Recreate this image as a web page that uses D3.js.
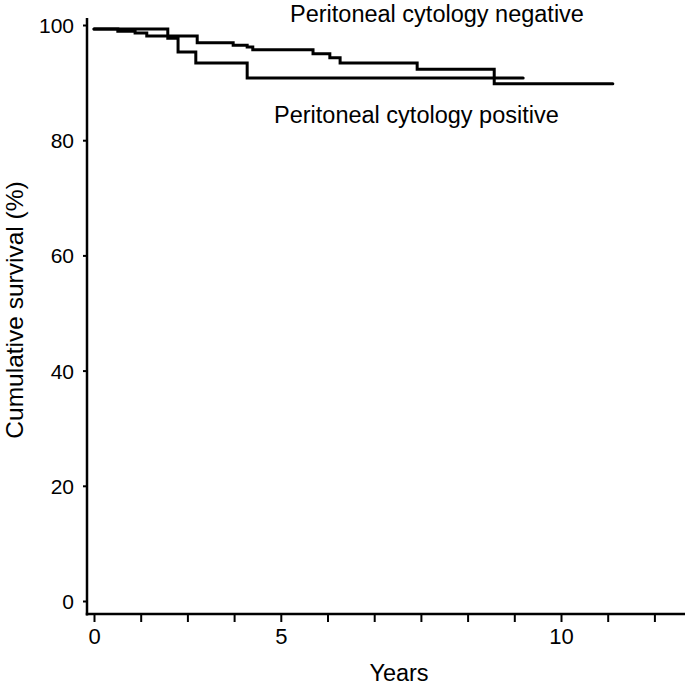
<!DOCTYPE html>
<html>
<head>
<meta charset="utf-8">
<script src="https://cdn.jsdelivr.net/npm/d3@7"></script>
<style>
body { margin: 0; background: #fff; }
text { font-family: "Liberation Sans", Arial, Helvetica, sans-serif; fill: #000; }
</style>
</head>
<body>
<svg id="chart"></svg>
<script>
var width = 685
var height = 686

//Kaplan-Meier steps: time in years, cumulative survival in %
var negTimes = [0, 0.51, 0.88, 1.13, 2.21, 2.98, 3.28, 3.40, 4.69, 5.05, 5.27, 6.92, 8.57, 11.11]
var negSurv  = [99.3, 98.9, 98.6, 98.1, 96.9, 96.5, 96.2, 95.7, 95.0, 94.3, 93.4, 92.3, 89.8, 89.8]
var posTimes = [0, 1.58, 1.80, 2.18, 3.28, 9.19]
var posSurv  = [99.3, 97.7, 95.3, 93.4, 90.8, 90.8]

//axis ticks (the "5" label sits under the fourth year tick in the original)
var xTicks = [0, 1, 2, 3, 4, 5, 6, 7, 8, 9, 10, 11, 12]
var xLabels = {0: "0", 4: "5", 10: "10"}
var yTicks = [0, 20, 40, 60, 80, 100]

var svg = d3.select("#chart")
	.attr("width", width)
	.attr("height", height)

var x = d3.scaleLinear().domain([0, 10]).range([94, 561])
var y = d3.scaleLinear().domain([0, 100]).range([601, 25])

var axisX = 87, axisY = 614

//y axis
var yAxis = svg.append("g")
	.attr("transform", "translate(" + axisX + ",0)")
	.call(d3.axisLeft(y).tickValues(yTicks).tickSize(4).tickPadding(9).tickSizeOuter(0))
yAxis.select(".domain").remove()
yAxis.selectAll(".tick line").attr("stroke", "#000").attr("stroke-width", 2)
yAxis.selectAll(".tick text").style("font-size", "21px").attr("dy", "0.36em")
yAxis.append("line")
	.attr("x1", 0).attr("x2", 0)
	.attr("y1", 18).attr("y2", axisY + 1.5)
	.attr("stroke", "#000").attr("stroke-width", 2.5)

//x axis
var xAxis = svg.append("g")
	.attr("transform", "translate(0," + axisY + ")")
	.call(d3.axisBottom(x).tickValues(xTicks).tickSize(8).tickPadding(6)
		.tickFormat(function(d) { return xLabels[d] || "" }))
xAxis.select(".domain").remove()
xAxis.selectAll(".tick line").attr("stroke", "#000").attr("stroke-width", 2)
xAxis.selectAll(".tick text").style("font-size", "22px")
xAxis.append("line")
	.attr("x1", axisX - 1.25).attr("x2", width)
	.attr("y1", 0).attr("y2", 0)
	.attr("stroke", "#000").attr("stroke-width", 2.5)

//curves
var line = d3.line()
	.x(function(d) { return x(d[0]) })
	.y(function(d) { return y(d[1]) })
	.curve(d3.curveStepAfter)

function drawCurve(times, surv) {
	var pts = times.map(function(t, i) { return [t, surv[i]] })
	svg.append("path")
		.datum(pts)
		.attr("d", line)
		.attr("fill", "none")
		.attr("stroke", "#000")
		.attr("stroke-width", 3)
		.attr("stroke-linecap", "round")
}
drawCurve(negTimes, negSurv)
drawCurve(posTimes, posSurv)

//labels
svg.append("text").attr("x", 290).attr("y", 22).style("font-size", "23.5px")
	.text("Peritoneal cytology negative")
svg.append("text").attr("x", 274).attr("y", 123).style("font-size", "23.5px")
	.text("Peritoneal cytology positive")
svg.append("text").attr("x", 399).attr("y", 681).attr("text-anchor", "middle")
	.style("font-size", "23.5px").text("Years")
svg.append("text")
	.attr("transform", "translate(23,310) rotate(-90)")
	.attr("text-anchor", "middle")
	.style("font-size", "24.5px")
	.text("Cumulative survival (%)")
</script>
</body>
</html>
